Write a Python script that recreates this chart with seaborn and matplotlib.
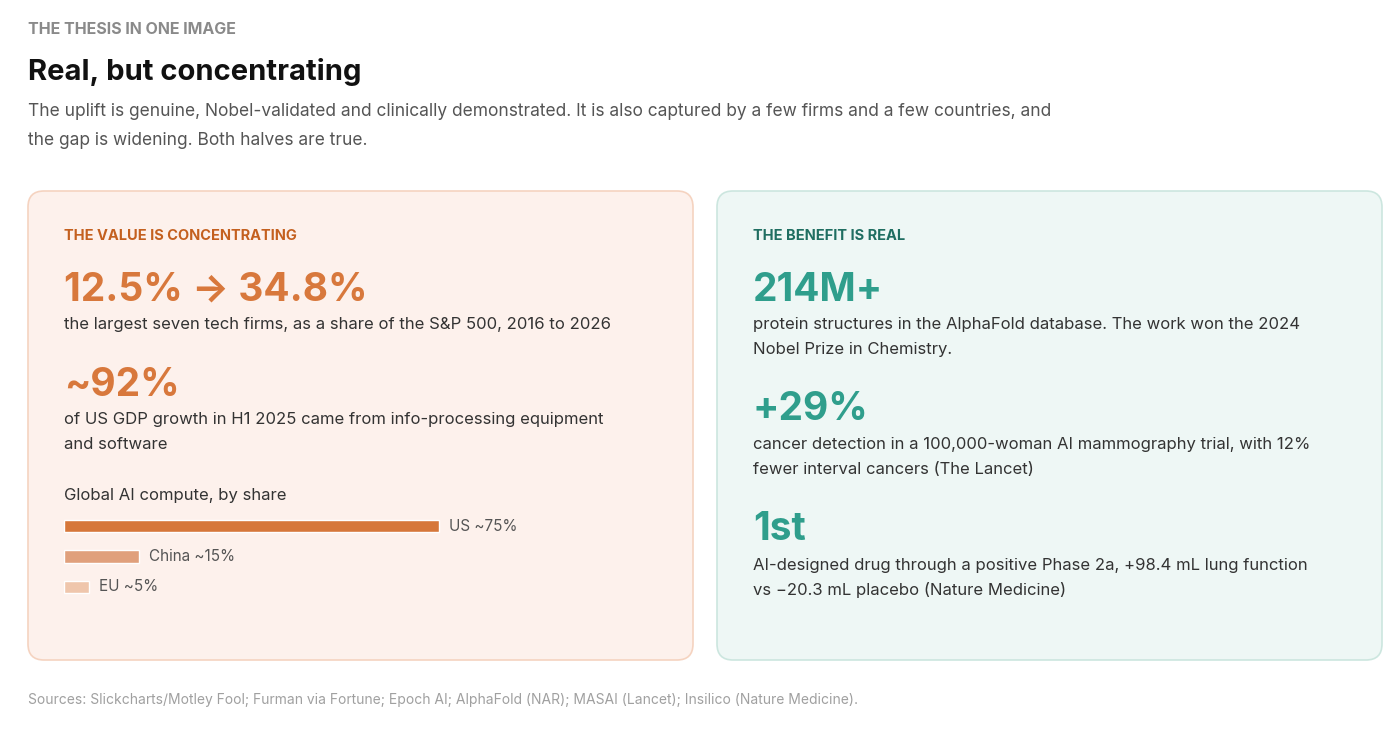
import matplotlib.pyplot as plt
import seaborn as sns
import pandas as pd
from matplotlib.patches import FancyBboxPatch

sns.set_theme(style="white")
plt.rcParams["font.family"] = ["Inter", "DejaVu Sans"]

regions = ["US", "China", "EU"]
shares = [75, 15, 5]
share_labels = ["US ~75%", "China ~15%", "EU ~5%"]
bar_colors = ["#d6773a", "#e0a07c", "#efc6ac"]

ORANGE = "#d8783c"
ORANGE_DK = "#c4601f"
TEAL = "#2f9e8c"
TEAL_DK = "#1f6e61"
BODY = "#333333"
GREY = "#8a8a8a"

fig = plt.figure(figsize=(13.98, 7.39), dpi=100)
fig.patch.set_facecolor("white")
ax = fig.add_axes([0, 0, 1, 1])
ax.set_xlim(0, 1398); ax.set_ylim(739, 0); ax.axis("off")

def t(x, y, s, size, color, weight="normal", **kw):
    ax.text(x, y, s, fontsize=size, color=color, fontweight=weight, va="baseline", **kw)

t(28, 34, "THE THESIS IN ONE IMAGE", 11.5, GREY, "bold")
t(28, 80, "Real, but concentrating", 21, "#111111", "bold")
t(28, 116, "The uplift is genuine, Nobel-validated and clinically demonstrated. It is also captured by a few firms and a few countries, and", 12.5, "#555555")
t(28, 145, "the gap is widening. Both halves are true.", 12.5, "#555555")

for x0, fc, ec in [(28, "#fdf1ec", "#f5d3c0"), (717, "#eef7f5", "#cce6df")]:
    ax.add_patch(FancyBboxPatch((x0, 191), 665, 469, boxstyle="round,pad=0,rounding_size=16",
                                fc=fc, ec=ec, lw=1.2))

# left card
t(64, 240, "THE VALUE IS CONCENTRATING", 10.5, ORANGE_DK, "bold")
t(64, 301, "12.5% → 34.8%", 28, ORANGE, "bold")
t(64, 329, "the largest seven tech firms, as a share of the S&P 500, 2016 to 2026", 12, BODY)
t(64, 396, "~92%", 28, ORANGE, "bold")
t(64, 424, "of US GDP growth in H1 2025 came from info-processing equipment", 12, BODY)
t(64, 449, "and software", 12, BODY)
t(64, 500, "Global AI compute, by share", 12, BODY)

# right card
t(753, 240, "THE BENEFIT IS REAL", 10.5, TEAL_DK, "bold")
t(753, 301, "214M+", 28, TEAL, "bold")
t(753, 329, "protein structures in the AlphaFold database. The work won the 2024", 12, BODY)
t(753, 354, "Nobel Prize in Chemistry.", 12, BODY)
t(753, 420, "+29%", 28, TEAL, "bold")
t(753, 449, "cancer detection in a 100,000-woman AI mammography trial, with 12%", 12, BODY)
t(753, 474, "fewer interval cancers (The Lancet)", 12, BODY)
t(753, 540, "1st", 28, TEAL, "bold")
t(753, 570, "AI-designed drug through a positive Phase 2a, +98.4 mL lung function", 12, BODY)
t(753, 595, "vs \u221220.3 mL placebo (Nature Medicine)", 12, BODY)

t(28, 704, "Sources: Slickcharts/Motley Fool; Furman via Fortune; Epoch AI; AlphaFold (NAR); MASAI (Lancet); Insilico (Nature Medicine).", 10, "#a0a0a0")

# bar chart inset: x 64..564 px -> 0..100 %, y 511..602 px
W, H = 1398, 739
bax = fig.add_axes([64 / W, 1 - 602 / H, 500 / W, 91 / H])
df = pd.DataFrame({"region": regions, "share": shares})
sns.barplot(data=df, x="share", y="region", hue="region", palette=bar_colors,
            width=0.4, legend=False, ax=bax, saturation=1)
bax.set_xlim(0, 100)
bax.axis("off")
bax.patch.set_alpha(0)
for i, (v, lab) in enumerate(zip(shares, share_labels)):
    bax.text(v + 2, i, lab, va="center", ha="left", fontsize=11, color="#555555")

fig.savefig("out.png", dpi=100)
